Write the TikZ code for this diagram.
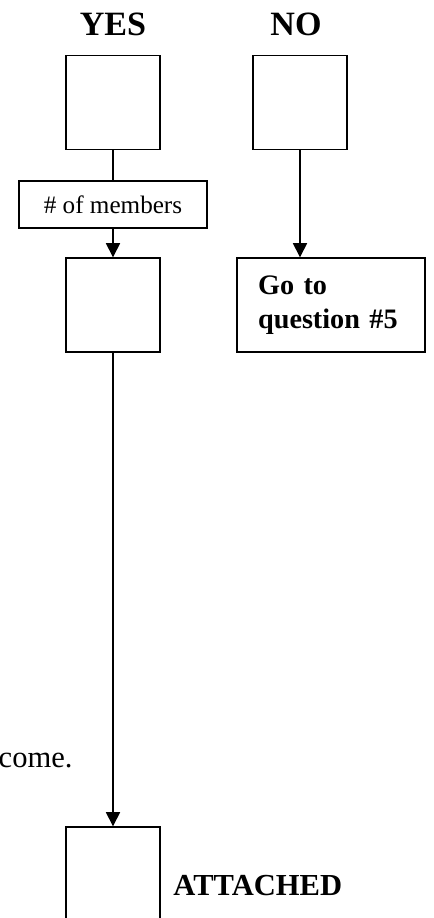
\documentclass[tikz,border=0pt]{standalone}
\usepackage{fontspec}
\setmainfont{Liberation Serif}
\usetikzlibrary{arrows.meta}

\tikzset{
  flowbox/.style={draw, line width=0.6pt, inner sep=0pt, minimum width=40pt, minimum height=40pt},
  membox/.style={draw, line width=0.6pt, inner sep=0pt, minimum width=80pt, minimum height=20pt},
  flowarrow/.style={line width=0.6pt, -{Triangle[length=6pt,width=6pt]}},
  flowline/.style={line width=0.6pt}
}

\begin{document}
\begin{tikzpicture}[x=0.4255pt,y=0.4255pt,yscale=-1,xscale=1]
\path[use as bounding box, clip] (0,0) rectangle (433,918);

% Headings
\node (yeshead) [anchor=base, inner sep=0pt, font=\fontsize{14.5}{17}\selectfont\bfseries] at (113,35) {YES};
\node (nohead) [anchor=base, inner sep=0pt, font=\fontsize{14.5}{17}\selectfont\bfseries] at (296,35) {NO};

% Boxes
\node (yesbox) [flowbox] at (113,102.5) {};
\node (nobox) [flowbox] at (300,102.5) {};
\node (members) [membox, font=\fontsize{10.7}{12}\selectfont] at (113,204.5) {\# of members};
\node (countbox) [flowbox] at (113,305) {};
\node (goto) [draw, line width=0.6pt, inner xsep=9pt, inner ysep=0pt, minimum height=40pt, text width=62pt, align=left,
  font=\fontsize{12}{14.5}\selectfont\bfseries] at (331,305) {Go to\\question \#5};
\node (lastbox) [flowbox] at (113,874) {};

% Side texts
\node (attached) [anchor=base west, inner sep=0pt, font=\fontsize{13}{15}\selectfont\bfseries] at (173,895) {ATTACHED};
\node (comeline) [anchor=base east, inner sep=0pt, font=\fontsize{13}{15}\selectfont] at (73,767) {come.};

% Connectors
\draw [flowline] (yesbox.south) -- (members.north);
\draw [flowarrow] (members.south) -- (countbox.north);
\draw [flowarrow] (nobox.south) -- (nobox.south |- goto.north);
\draw [flowarrow] (countbox.south) -- (lastbox.north);

\end{tikzpicture}
\end{document}
